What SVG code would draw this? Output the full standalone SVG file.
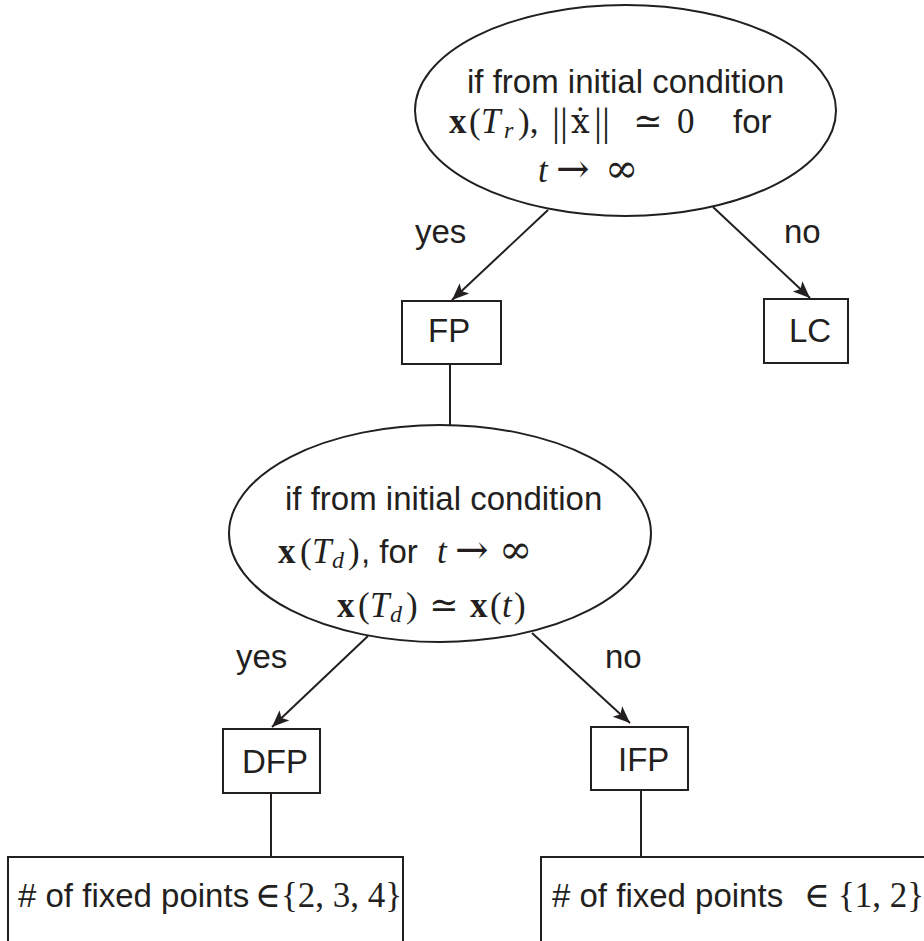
<svg xmlns="http://www.w3.org/2000/svg" width="924" height="941" viewBox="0 0 924 941">
<defs>
<style>
.s{font-family:"Liberation Sans",Arial,sans-serif;font-size:33px;fill:#231f20}
.m{font-family:"Liberation Serif","DejaVu Serif",serif;font-size:35px;fill:#231f20}
.y{font-family:"DejaVu Serif","Liberation Serif",serif;font-weight:normal;font-style:normal}
.ar{font-size:40px}
.bar{font-size:40px}
.dx{font-size:33px}
.b{font-weight:bold}
.i{font-style:italic}
.sub{font-size:24px}
.shape{fill:#fff;stroke:#231f20;stroke-width:2}
.con{stroke:#231f20;stroke-width:2;fill:none}
.arr{marker-end:url(#ah)}
</style>
<marker id="ah" markerUnits="userSpaceOnUse" viewBox="0 -8 18 16" refX="17" refY="0" markerWidth="18" markerHeight="16" orient="auto">
<path d="M0,-7 L17,0 L0,7 L4,0 z" fill="#231f20"/>
</marker>
</defs>
<rect width="924" height="941" fill="#fff"/>

<g id="connectors">
<line class="con arr" x1="548" y1="210" x2="452" y2="300"/>
<line class="con arr" x1="713" y1="207" x2="810" y2="298"/>
<line class="con" x1="450" y1="364" x2="450" y2="425"/>
<line class="con arr" x1="368" y1="636" x2="272" y2="727"/>
<line class="con arr" x1="532" y1="633" x2="630" y2="723"/>
<line class="con" x1="271" y1="793" x2="271" y2="857"/>
<line class="con" x1="641" y1="791" x2="641" y2="857"/>
<text class="s" x="415" y="243">yes</text>
<text class="s" x="784" y="243">no</text>
<text class="s" x="236" y="668">yes</text>
<text class="s" x="605" y="668">no</text>
</g>

<g id="cond1">
<ellipse class="shape" cx="625.5" cy="110.5" rx="210.5" ry="105.5"/>
<text class="s" x="467" y="93">if from initial condition</text>
<text class="m" y="133"><tspan class="b" x="449">x</tspan><tspan x="469">(</tspan><tspan class="i" x="481">T</tspan><tspan class="i sub" x="504" dy="5">r</tspan><tspan x="518" dy="-5">),</tspan><tspan class="bar" x="552" dy="2">||</tspan><tspan class="y dx" x="571" dy="-2">ẋ</tspan><tspan class="bar" x="594" dy="2">||</tspan><tspan class="y" x="633" dy="-2">≃</tspan><tspan x="677">0</tspan></text>
<text class="s" x="733" y="133">for</text>
<text class="m" y="182"><tspan class="i" x="538">t</tspan><tspan class="y ar" x="556">→</tspan><tspan class="y ar" x="605">∞</tspan></text>
</g>

<g id="FP">
<rect class="shape" x="402" y="301" width="99" height="63"/>
<text class="s" x="428" y="342">FP</text>
</g>

<g id="LC">
<rect class="shape" x="764" y="299" width="84" height="64"/>
<text class="s" x="789" y="342">LC</text>
</g>

<g id="cond2">
<ellipse class="shape" cx="440" cy="533.5" rx="211" ry="108.5"/>
<text class="s" x="285" y="510">if from initial condition</text>
<text class="m" y="563"><tspan class="b" x="278">x</tspan><tspan x="300">(</tspan><tspan class="i" x="312">T</tspan><tspan class="i sub" x="332" dy="5">d</tspan><tspan x="348" dy="-5">)</tspan></text>
<text class="s" x="361" y="563">, for</text>
<text class="m" y="563"><tspan class="i" x="437">t</tspan><tspan class="y ar" x="455">→</tspan><tspan class="y ar" x="499">∞</tspan></text>
<text class="m" y="617"><tspan class="b" x="337">x</tspan><tspan x="358">(</tspan><tspan class="i" x="370">T</tspan><tspan class="i sub" x="390" dy="5">d</tspan><tspan x="406" dy="-5">)</tspan><tspan class="y" x="429">≃</tspan><tspan class="b" x="470">x</tspan><tspan x="490">(</tspan><tspan class="i" x="502">t</tspan><tspan x="514">)</tspan></text>
</g>

<g id="DFP">
<rect class="shape" x="223" y="729" width="97" height="64"/>
<text class="s" x="242" y="773">DFP</text>
</g>

<g id="IFP">
<rect class="shape" x="591" y="727" width="97" height="63"/>
<text class="s" x="618" y="771">IFP</text>
</g>

<g id="count1">
<path class="shape" d="M8,945 V857 H403 V945"/>
<text class="s" x="18" y="907">#  of fixed points</text>
<text class="m" y="907"><tspan class="y" x="255">∈</tspan><tspan x="281">{2, 3, 4}</tspan></text>
</g>

<g id="count2">
<path class="shape" d="M541,945 V857 H930"/>
<text class="s" x="552" y="907">#  of fixed points</text>
<text class="m" y="907"><tspan class="y" x="804">∈</tspan><tspan x="838">{1, 2}</tspan></text>
</g>
</svg>
